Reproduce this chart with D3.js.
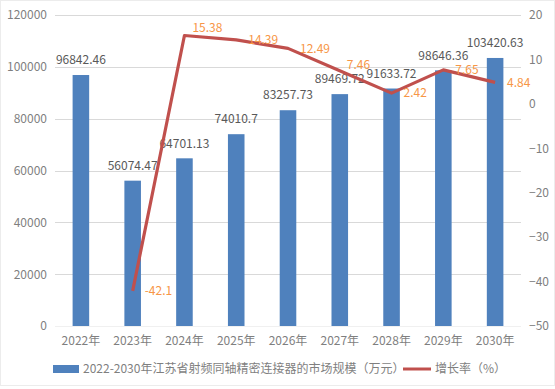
<!DOCTYPE html>
<html><head><meta charset="utf-8">
<script src="https://cdn.jsdelivr.net/npm/d3@7/dist/d3.min.js"></script>
<style>body{margin:0;background:#fff}svg{display:block}text{font-family:"Noto Sans CJK SC","Liberation Sans",sans-serif}</style>
</head><body><svg id="c" width="555" height="389"></svg>
<script>
const years = ["2022年","2023年","2024年","2025年","2026年","2027年","2028年","2029年","2030年"];
const market = [96842.46,56074.47,64701.13,74010.7,83257.73,89469.72,91633.72,98646.36,103420.63];
const growth = [null,-42.1,15.38,14.39,12.49,7.46,2.42,7.65,4.84];
const leftTicks = [0,20000,40000,60000,80000,100000,120000];
const rightTicks = [-50,-40,-30,-20,-10,0,10,20];
const barName = "2022-2030年江苏省射频同轴精密连接器的市场规模（万元）";
const lineName = "增长率（%）";

const svg = d3.select("#c");
const W=555,H=389;
const m = {l:55,r:521,t:15,b:326};
svg.append("rect").attr("x",0.5).attr("y",0.5).attr("width",W-1).attr("height",H-4).attr("fill","#fff").attr("stroke","#ececec");

const x = d3.scaleBand().domain(years).range([m.l,m.r]).paddingInner(0.68).paddingOuter(0.34);
const xc = d => x(d)+x.bandwidth()/2;
const yL = d3.scaleLinear().domain([0,120000]).range([m.b,m.t]);
const yR = d3.scaleLinear().domain([-50,20]).range([m.b,m.t]);

// grid
svg.append("g").selectAll("line").data(leftTicks).join("line")
 .attr("x1",m.l).attr("x2",m.r).attr("y1",d=>Math.round(yL(d))+0.5).attr("y2",d=>Math.round(yL(d))+0.5)
 .attr("stroke",d=>d===0?"#f0f0f0":"#d9d9d9").attr("stroke-width",1);

// left axis
const gl = svg.append("g").attr("transform",`translate(${m.l-8},0)`)
 .call(d3.axisLeft(yL).tickValues(leftTicks).tickSize(0).tickPadding(0).tickFormat(d3.format("d")));
gl.select(".domain").remove();
gl.selectAll("text").attr("fill","#7f7f7f").attr("font-size","12px").attr("font-family","Liberation Sans, sans-serif");

const gr = svg.append("g").attr("transform",`translate(${m.r+8},0)`)
 .call(d3.axisRight(yR).tickValues(rightTicks).tickSize(0).tickPadding(0));
gr.select(".domain").remove();
gr.selectAll("text").attr("fill","#7f7f7f").attr("font-size","12px").attr("font-family","Liberation Sans, sans-serif");

const gx = svg.append("g").attr("transform",`translate(0,${m.b+8})`)
 .call(d3.axisBottom(x).tickSize(0).tickPadding(0));
gx.select(".domain").remove();
gx.selectAll("text").attr("fill","#7f7f7f").attr("font-size","12px").attr("dy","0.9em");

// bars
svg.append("g").selectAll("rect").data(years).join("rect")
 .attr("x",d=>x(d)).attr("width",x.bandwidth())
 .attr("y",(d,i)=>yL(market[i])).attr("height",(d,i)=>yL(0)-yL(market[i]))
 .attr("fill","#4F81BD");

svg.append("g").selectAll("text").data(years).join("text")
 .attr("x",d=>xc(d)).attr("y",(d,i)=>yL(market[i])-15).attr("dy","0.35em")
 .attr("text-anchor","middle").attr("font-size","12px").attr("font-family","Liberation Sans, sans-serif")
 .attr("fill","#595959").text((d,i)=>market[i]);

// line
const pts = years.map((d,i)=>({d,v:growth[i]})).filter(p=>p.v!==null);
svg.append("path").datum(pts)
 .attr("d",d3.line().x(p=>xc(p.d)).y(p=>yR(p.v)))
 .attr("fill","none").attr("stroke","#C0504D").attr("stroke-width",3.2).attr("stroke-linejoin","round");

const nudge = {"2024年":[-4,-8],"2027年":[-5,-6]};
svg.append("g").selectAll("text").data(pts).join("text")
 .attr("x",p=>xc(p.d)+12+((nudge[p.d]||[0,0])[0]))
 .attr("y",p=>yR(p.v)+((nudge[p.d]||[0,0])[1])).attr("dy","0.35em")
 .attr("font-size","12px").attr("font-family","Liberation Sans, sans-serif")
 .attr("fill","#F79646").text(p=>p.v);

// legend
const lg = svg.append("g");
lg.append("rect").attr("x",53).attr("y",365).attr("width",26).attr("height",8).attr("fill","#4F81BD");
lg.append("text").attr("x",83).attr("y",369).attr("dy","0.35em").attr("font-size","12px").attr("fill","#7f7f7f").text(barName);
lg.append("line").attr("x1",403).attr("x2",431).attr("y1",369).attr("y2",369).attr("stroke","#C0504D").attr("stroke-width",3);
lg.append("text").attr("x",435).attr("y",369).attr("dy","0.35em").attr("font-size","12px").attr("fill","#7f7f7f").text(lineName);
</script></body></html>
